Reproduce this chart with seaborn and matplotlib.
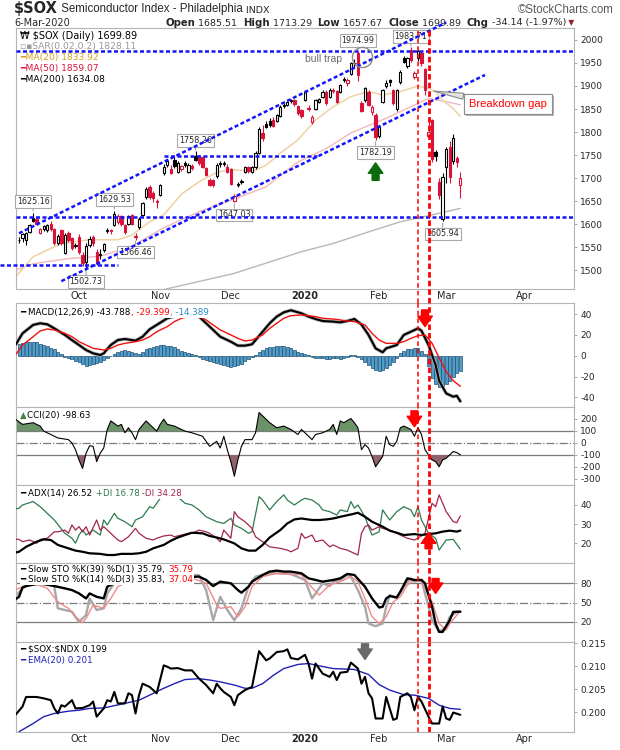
import numpy as np
import pandas as pd
import matplotlib
matplotlib.use("Agg")
import matplotlib.pyplot as plt
import matplotlib.patheffects as pe
import seaborn as sns

# ---------------- data ----------------
symbol = "$SOX"
first_day = "2019-09-06"          # first candle; one candle per trading day
holidays = ["2019-11-28", "2019-12-25", "2020-01-01", "2020-01-20", "2020-02-17", "2020-04-10"]

opens = [1566, 1569, 1565, 1583, 1614, 1610, 1581, 1590, 1587, 1601, 1589, 1558, 1587, 1538, 1580, 1569, 1553,
         1572, 1532, 1518, 1555, 1572, 1540, 1532, 1543, 1585, 1588,
         1598, 1605, 1617, 1598, 1601, 1620, 1574, 1594, 1620, 1659,
         1680, 1668, 1650, 1663, 1710, 1728, 1719, 1739, 1714, 1719,
         1733, 1714, 1726, 1748, 1746, 1746, 1721, 1696, 1695, 1704,
         1732, 1731, 1725, 1719, 1650, 1686, 1692, 1714, 1723, 1714,
         1723, 1755, 1798, 1818, 1825, 1826, 1825, 1835, 1857, 1859,
         1870, 1869, 1856, 1848, 1870, 1852, 1822, 1851, 1866, 1877,
         1888, 1877, 1892, 1889, 1888, 1912, 1907, 1927, 1950, 1971,
         1864, 1870, 1888, 1844, 1837, 1791, 1866, 1900, 1912, 1891,
         1849, 1909, 1960, 1943, 1978, 1920, 1960, 1971, 1936, 1791,
         1826, 1757, 1692, 1612, 1725, 1768, 1738, 1743, 1685.51]
highs = [1572, 1580, 1583, 1600, 1625.16, 1614, 1592, 1597, 1600, 1606, 1592, 1578, 1590, 1580, 1585, 1572, 1560,
         1578, 1540, 1558, 1575, 1576, 1545, 1545, 1560, 1592, 1590,
         1629.53, 1622, 1620, 1600, 1620, 1622, 1580, 1615, 1648, 1680,
         1684, 1672, 1655, 1688, 1730, 1742, 1728, 1745, 1736, 1729,
         1737, 1732, 1730, 1758.26, 1750, 1748, 1725, 1700, 1698, 1732,
         1736, 1738, 1730, 1722, 1665, 1692, 1698, 1726, 1726, 1726,
         1758, 1810, 1815, 1825, 1830, 1832, 1840, 1858, 1862, 1868,
         1872, 1872, 1858, 1850, 1892, 1858, 1836, 1872, 1874, 1892,
         1892, 1895, 1896, 1892, 1905, 1920, 1918, 1952, 1958, 1974.99,
         1868, 1898, 1892, 1858, 1842, 1814, 1894, 1912, 1915, 1894,
         1894, 1935, 1965, 1963, 1983.71, 1932, 1980, 1976, 1940, 1825,
         1828, 1762, 1700, 1710, 1768, 1780, 1795, 1748, 1713.29]
lows = [1558, 1562, 1554, 1580, 1605, 1598, 1578, 1586, 1583, 1586, 1555, 1555, 1555, 1534, 1562, 1543, 1548,
        1536, 1510, 1502.73, 1550, 1552, 1512, 1525, 1540, 1580, 1578,
        1595, 1600, 1596, 1578, 1598, 1598, 1566.46, 1590, 1618, 1655,
        1655, 1648, 1636, 1660, 1706, 1725, 1708, 1722, 1712, 1716,
        1724, 1712, 1718, 1736, 1728, 1722, 1704, 1682, 1680, 1700,
        1724, 1727, 1710, 1685, 1647.03, 1680, 1688, 1712, 1712, 1712,
        1720, 1752, 1780, 1808, 1810, 1810, 1822, 1832, 1852, 1856,
        1862, 1856, 1836, 1830, 1868, 1845, 1818, 1848, 1862, 1874,
        1858, 1874, 1884, 1862, 1885, 1908, 1900, 1924, 1940, 1910,
        1843, 1866, 1856, 1838, 1782.19, 1788, 1862, 1896, 1900, 1858,
        1846, 1905, 1950, 1940, 1952, 1915, 1955, 1944, 1880, 1785,
        1735, 1738, 1655, 1605.94, 1690, 1690, 1730, 1725, 1657.67]
closes = [1565, 1578, 1581, 1598, 1607, 1601, 1590, 1595, 1598, 1589, 1558, 1574, 1558, 1576, 1565, 1547, 1555,
          1540, 1516, 1552, 1568, 1558, 1516, 1535, 1556, 1588, 1586,
          1623, 1618, 1600, 1583, 1617, 1601, 1572, 1612, 1645, 1677,
          1659, 1656, 1649, 1685, 1725, 1737, 1711, 1726, 1733, 1726,
          1728, 1729, 1721, 1740, 1732, 1725, 1707, 1685, 1684, 1728,
          1730, 1733, 1714, 1688, 1662, 1688, 1694, 1723, 1715, 1723,
          1755, 1806, 1788, 1812, 1815, 1814, 1837, 1854, 1859, 1866,
          1868, 1860, 1842, 1834, 1888, 1850, 1832, 1869, 1871, 1888,
          1862, 1891, 1890, 1866, 1902, 1916, 1914, 1949, 1951, 1924,
          1846, 1895, 1859, 1854, 1790, 1811, 1891, 1906, 1908, 1862,
          1891, 1931, 1953, 1960, 1956, 1929, 1977, 1949, 1891, 1801,
          1742, 1748, 1663, 1703, 1764, 1703, 1786, 1734.03, 1699.89]

# moving averages (day numbers count trading days from 1-Oct-2019)
ma20_day = [-18, -13, -5, 3, 11, 15, 20, 24, 29, 34, 39, 43, 49, 53, 57, 62, 67, 72, 77, 82,
            86, 91, 96, 99, 101, 103, 106, 108]
ma20_val = [1485, 1529, 1558, 1566, 1566, 1576, 1605, 1620, 1665, 1692, 1712, 1719, 1714, 1728, 1754, 1783,
            1826, 1855, 1877, 1888, 1880, 1888, 1900, 1895, 1888, 1869, 1851, 1833.92]
ma50_day = [-18, -13, -3, 6, 15, 24, 34, 43, 53, 62, 70, 77, 87, 96, 99, 104, 108]
ma50_val = [1500, 1514, 1525, 1530, 1552, 1592, 1627, 1652, 1681, 1735, 1764, 1798, 1830, 1862, 1873, 1866, 1859.07]
ma200_day = [23, 44, 63, 72, 82, 91, 100, 108]
ma200_val = [1456, 1493, 1540, 1558, 1583, 1605, 1620, 1634.08]
sar_last = 1828.11

# hand drawn lines on the price chart
channel_top = ([-17, 104], [1580, 2038])
channel_bottom = ([-5, 115], [1476, 1924])
full_levels = [1974.99, 1616]
short_levels = [([-22.4, 11], 1511), ([24, 67.5], 1748)]
label_high_days = [-13, 10, 33, 79, 94]
label_low_days = [2, 16, 44, 84, 103]
event_days = [96, 99]

# MACD(12,26,9)
macd_day = [-18, -16, -13, -11, -9, -7, -4, -2, 0, 2, 4, 6, 7, 9, 11, 13, 16, 18, 20, 22,
            25, 27, 30, 34, 36, 38, 40, 43, 45, 47, 49, 52, 54, 56, 58, 60, 63, 65, 67, 69,
            72, 74, 76, 78, 80, 82, 84, 86, 87, 90, 92, 94, 96, 97, 99, 101, 102, 104, 106, 107, 108]
macd_val = [10.3, 21.5, 29.6, 31.2, 30.2, 26.3, 20, 15, 10.3, 5.5, 2.3, 0.7, 2.3, 10.3, 15.1, 16.1, 14.5, 18.3, 25.4, 29.6,
            36, 37.9, 39.2, 37.6, 31.2, 24.8, 18.3, 13.5, 9.7, 9.7, 11, 23.1, 31.2, 37.6, 41.7, 43.7, 40.8, 37.6, 35.3, 33.4,
            32.8, 32.1, 33.4, 35.3, 30, 20, 7.1, 3.3, 7.1, 10.3, 20, 23.1, 26.3, 24, 10.3, -8.9, -24, -36.2, -39.4, -38.5, -43.788]
signal_day = [-18, -16, -13, -11, -9, -7, -4, -2, 0, 2, 4, 7, 9, 11, 13, 16, 18, 20, 22, 25,
              27, 29, 31, 34, 36, 38, 40, 43, 45, 47, 49, 52, 54, 56, 58, 60, 63, 65, 67, 69,
              72, 74, 76, 78, 81, 83, 85, 87, 90, 92, 94, 96, 98, 100, 102, 104, 106, 108]
signal_val = [0.7, 10.3, 18.3, 23.8, 25.7, 24.8, 21.5, 18.3, 13.5, 10.3, 7.1, 5.5, 7.1, 10.3, 11.9, 13.5, 15.1, 18.3, 23.1, 28,
              32.8, 36, 37.6, 37.6, 34.4, 29.6, 24.8, 20, 16.7, 14.2, 15.1, 20, 26.3, 31.2, 36, 38.5, 39.2, 38.5, 37.6, 36,
              35.3, 34.4, 33.4, 32.8, 29.6, 21.5, 15.1, 11.9, 11.9, 13.5, 16.7, 19.3, 20, 12, -2, -15.3, -24, -29.399]
macd_hist = [11, 12, 13, 13.5, 13.5, 13, 11.5, 10, 9, 7.5,
             6, 4, 1.5, -1, -2.5, -3.5, -5, -6, -8, -9.5,
             -9, -8, -7, -6, -4.5, -2.5, -0.5, 2, 4, 5,
             5.5, 5, 4, 2.5, 2, 4, 6, 7.5, 8.5, 9,
             10, 10, 9.5, 9, 8, 6.5, 5, 4, 3, 2,
             0.5, -1, -3, -4.5, -5.5, -6.5, -7, -7.5, -8.5, -9.5,
             -10.5, -10, -9, -7.5, -5.5, -3.5, -1.5, 1, 4, 5.5,
             7, 8, 8.5, 9, 9.5, 9.7, 8.5, 7, 5.5, 4,
             2.5, 1.5, 0.5, -1.5, -2, -2.5, -2.5, -3, -3, -2.5,
             -2.5, -3, -2, -1, 0.6, 0.3, -1.5, -3, -6, -9,
             -12, -14, -15, -14, -12, -9, -6, -2, 3, 5,
             6, 6.5, 7, 7, 5, 2, -10, -21, -27, -30,
             -29, -27, -24, -20, -17, -14.389]

# CCI(20)
cci_day = [-18, -16, -13, -11, -10, -8, -6, -3, -2, -1, 0, 1, 2, 3, 4, 5, 6, 7, 8, 9,
           11, 12, 13, 14, 15, 16, 17, 19, 20, 22, 23, 24, 25, 27, 29, 30, 32, 35, 36, 37,
           39, 40, 41, 42, 43, 44, 45, 46, 47, 49, 50, 51, 52, 54, 56, 58, 60, 62, 63, 64,
           66, 67, 69, 71, 72, 73, 74, 75, 77, 78, 79, 80, 81, 82, 83, 84, 86, 87, 88, 89,
           90, 91, 92, 94, 95, 96, 97, 98, 100, 101, 102, 103, 104, 106, 107, 108]
cci_val = [198, 155, 169, 141, 99, 71, 42, 28, 0, -56, -141, -212, -85, -23, -28, -155, -85, -42, 113, 184,
           141, 155, 85, 127, 85, 28, 113, 184, 155, 99, 155, 198, 155, 141, 113, 99, 85, 56, 14, -28,
           14, -42, 56, -56, -155, -277, -141, -28, 28, 28, 85, 254, 226, 169, 127, 141, 113, 71, 113, 85,
           28, 71, 85, 113, 155, 71, 184, 169, 204, 169, 127, -56, -14, -42, -113, -198, -113, 56, -14, -28,
           14, 127, 141, 113, 56, 127, 71, -56, -141, -155, -198, -141, -127, -71, -80, -98.63]

# ADX(14), +DI, -DI
adx_day = [-18, -17, -15, -12, -10, -8, -6, -3, -1, 1, 3, 6, 8, 10, 12, 15, 17, 19, 21, 24,
           26, 28, 30, 32, 35, 37, 39, 41, 44, 46, 48, 50, 52, 54, 57, 59, 61, 63, 66, 68,
           70, 72, 74, 77, 79, 81, 83, 86, 88, 90, 92, 95, 97, 99, 101, 103, 105, 107, 108]
adx_val = [15, 15.4, 18, 20.7, 21.9, 21.6, 19, 17.2, 16, 15.4, 14.6, 14.3, 13.7, 13.7, 14.3, 14.3, 14.6, 15.4, 17.2, 19,
           21.2, 22.9, 24.2, 25.4, 25.1, 23.7, 22.9, 21.9, 19.8, 17.2, 16, 16, 19, 22.9, 26.8, 30.3, 32.4, 32.9, 32.1, 32.1,
           32.4, 32.9, 33.8, 35, 35.9, 33.8, 31.2, 28.6, 26.5, 25.4, 24.2, 24.7, 24.2, 24.7, 25.1, 26, 26.5, 26, 26.52]
pdi_day = [-18, -17, -16, -13, -11, -9, -7, -4, -2, -1, 0, 1, 2, 4, 6, 7, 8, 10, 11, 13,
           15, 16, 18, 20, 21, 23, 25, 27, 29, 30, 32, 34, 36, 38, 39, 41, 43, 44, 46, 48,
           49, 51, 52, 54, 56, 58, 59, 61, 63, 64, 66, 68, 69, 71, 73, 74, 76, 77, 78, 79,
           81, 82, 83, 85, 86, 88, 90, 92, 94, 95, 96, 97, 99, 101, 102, 104, 106, 108]
pdi_val = [38, 38.3, 40, 41.8, 39.1, 35.6, 32.1, 25.1, 22.5, 19.9, 24.2, 26.8, 24.2, 26.8, 24.2, 32.1, 29.5, 35.6, 33, 31.2,
           28.6, 32.1, 33.8, 39.1, 38.3, 43.5, 45.3, 45.3, 42.6, 40.9, 40, 37.4, 33.8, 32.1, 31.2, 30.3, 33, 29.5, 27.7, 25.1,
           25.9, 44.4, 42.6, 37.4, 41.8, 45.3, 42.6, 40, 42.6, 43.5, 42.6, 40, 37.4, 36.5, 34.7, 37.4, 36.5, 41.8, 38.3, 40,
           33.8, 28.6, 24.2, 25.9, 37.4, 32.1, 36.5, 39.1, 37.4, 33.8, 39.1, 32.1, 25.1, 22.5, 16.3, 21.6, 21.9, 16.78]
mdi_day = [-18, -17, -16, -14, -12, -11, -9, -7, -6, -4, -3, -2, -1, 0, 1, 2, 3, 5, 6, 7,
           9, 11, 12, 14, 16, 17, 19, 21, 22, 24, 26, 27, 29, 31, 32, 34, 36, 37, 39, 40,
           41, 43, 44, 45, 47, 49, 50, 52, 54, 57, 59, 60, 62, 63, 64, 66, 67, 69, 71, 72,
           74, 76, 77, 79, 80, 81, 82, 83, 85, 86, 88, 90, 91, 93, 95, 96, 98, 99, 100, 101,
           102, 104, 106, 107, 108]
mdi_val = [22, 21.9, 20.7, 21.6, 19.9, 21.9, 22.5, 25.9, 25.9, 26.8, 25.1, 29.5, 26.8, 28.6, 25.9, 28.6, 24.2, 32.1, 26.8, 28.6,
           25.1, 21.6, 20.7, 23.3, 27.7, 25.1, 22.5, 21.6, 22.5, 23.7, 24.2, 23.3, 24.2, 25.1, 25.1, 26.8, 25.9, 25.1, 22.5, 20.7,
           26.8, 22.5, 36.5, 33.8, 31.2, 27.7, 23.3, 20.7, 18, 17.2, 16.3, 15.4, 17.2, 25.1, 22.5, 24.2, 20.7, 21.6, 18, 19,
           17.2, 16.3, 15.4, 13.7, 25.1, 28.6, 29.5, 26.8, 28.6, 27.7, 26.8, 25.1, 24.2, 22.5, 21.6, 22.5, 25.1, 33, 40.9, 39.1,
           45.3, 36.5, 31.2, 30.7, 34.28]

# Slow stochastics
sto39_day = [-18, -17, -16, -15, -11, -7, -4, -2, 0, 2, 3, 5, 7, 8, 10, 13, 22, 34, 36, 38,
             40, 43, 45, 46, 48, 49, 52, 54, 56, 58, 60, 63, 65, 67, 69, 72, 74, 76, 78, 81,
             83, 85, 86, 87, 88, 90, 91, 93, 95, 97, 98, 100, 101, 102, 103, 105, 106, 108]
sto39_val = [55, 58.8, 73.3, 75.4, 79.5, 75.4, 71.8, 69.2, 64, 56.3, 64, 58.8, 56.3, 74.4, 79.6, 84.8, 87.3, 90, 84.8, 75.4,
             82.2, 79.6, 69.2, 65.1, 74.4, 82.2, 92.5, 97.7, 99.2, 97.7, 97.7, 95.1, 87.3, 84.8, 82.2, 84.8, 87.3, 94.1, 92.5, 74.4,
             56.3, 42.3, 43.4, 56.3, 59.9, 57.9, 66.7, 87.3, 84.8, 84.8, 79.6, 43.4, 17.5, 4.6, 4.6, 22.6, 35.5, 35.79]
sto14_day = [-18, -16, -13, -10, -8, -7, -6, -4, -2, 0, 2, 3, 5, 7, 8, 10, 13, 18, 22, 27,
             31, 34, 36, 38, 40, 42, 44, 46, 48, 50, 54, 56, 60, 64, 66, 67, 69, 71, 72, 74,
             76, 77, 79, 81, 82, 84, 86, 87, 88, 90, 92, 94, 95, 97, 98, 100, 102, 104, 105, 107, 108]
sto14_val = [60, 72, 80, 78, 78, 74.4, 41, 38.4, 35.8, 20, 30.6, 56.3, 38.4, 41, 64, 79.6, 88, 90, 92, 95,
             93, 92, 69.2, 22.6, 58.8, 38.4, 22.6, 41, 74.4, 90, 95.1, 95.1, 94, 84.8, 56.3, 64, 79.6, 75.4, 82.2, 84.8,
             92.5, 90, 69.2, 43.4, 17.5, 13.4, 17.5, 43.4, 61.5, 56.3, 74.4, 87.3, 82.2, 84.8, 64, 22.6, 4.6, 12.4, 27.9, 35.5, 35.83]
sto14d_day = [-18, -13, -9, -6, -3, -1, 1, 2, 4, 7, 9, 11, 15, 22, 30, 36, 39, 40, 43, 45,
              47, 49, 52, 56, 63, 66, 68, 71, 74, 77, 79, 81, 83, 85, 87, 89, 91, 93, 95, 97,
              100, 102, 104, 105, 107, 108]
sto14d_val = [70, 80, 72, 51, 41, 28, 18.8, 25.5, 46.2, 41, 56.3, 74.4, 85, 90, 92, 79.6, 46.2, 41, 43.4, 28,
              43.4, 74.4, 90, 95, 93, 72.8, 61.5, 77, 82.2, 90, 82.2, 56.3, 28, 17.5, 28, 51, 58.8, 77, 84.8, 82.2,
              51, 17.5, 7.2, 17.5, 30.4, 37.04]

# $SOX:$NDX ratio and its EMA(20)
ratio_day = [-18, -16, -15, -12, -10, -8, -7, -6, -5, -4, -2, -1, 1, 3, 4, 5, 7, 8, 9, 10,
             11, 13, 14, 15, 16, 17, 18, 20, 22, 24, 25, 26, 28, 30, 32, 34, 36, 38, 39, 40,
             41, 43, 44, 45, 47, 49, 51, 53, 54, 56, 58, 59, 60, 62, 64, 65, 66, 67, 69, 71,
             72, 73, 74, 76, 77, 79, 80, 81, 82, 83, 84, 86, 87, 89, 90, 91, 93, 94, 95, 96,
             97, 99, 100, 102, 103, 104, 105, 106, 108]
ratio_val = [0.1994, 0.2012, 0.2033, 0.2033, 0.2030, 0.2026, 0.2008, 0.1997, 0.2015, 0.2012,
             0.2026, 0.2008, 0.2009, 0.2015, 0.2023, 0.1990, 0.2008, 0.2026, 0.2023, 0.2044,
             0.2019, 0.2019, 0.2041, 0.2037, 0.1997, 0.2037, 0.2062, 0.2055, 0.2041, 0.2102,
             0.2099, 0.2095, 0.2096, 0.2091, 0.2091, 0.2073, 0.2059, 0.2041, 0.2062, 0.2052,
             0.2044, 0.2033, 0.2015, 0.2037, 0.2048, 0.2055, 0.2133, 0.2113, 0.2117, 0.2131,
             0.2133, 0.2137, 0.2118, 0.2115, 0.2125, 0.2106, 0.2073, 0.2106, 0.2084, 0.2077,
             0.2088, 0.2070, 0.2086, 0.2088, 0.2108, 0.2095, 0.2062, 0.2077, 0.2041, 0.2030,
             0.1986, 0.1986, 0.2033, 0.1983, 0.1986, 0.2033, 0.2041, 0.2033, 0.2004, 0.2033,
             0.2023, 0.1990, 0.1975, 0.1975, 0.2012, 0.1986, 0.1983, 0.1999, 0.1994]
ema_day = [-17, -13, -10, -7, -3, 0, 3, 7, 10, 13, 17, 20, 24, 27, 30, 34, 37, 40, 44, 47,
           49, 52, 55, 58, 62, 65, 68, 72, 75, 78, 82, 85, 88, 92, 95, 99, 102, 105, 108]
ema_val = [0.1957, 0.1975, 0.1990, 0.1997, 0.2002, 0.2004, 0.2008, 0.2009, 0.2014, 0.2019,
           0.2026, 0.2037, 0.2052, 0.2062, 0.2071, 0.2073, 0.2070, 0.2066, 0.2059, 0.2052,
           0.2052, 0.2062, 0.2080, 0.2095, 0.2104, 0.2106, 0.2101, 0.2095, 0.2094, 0.2093,
           0.2082, 0.2060, 0.2048, 0.2038, 0.2037, 0.2030, 0.2015, 0.2008, 0.2006]

# ---------------- styling ----------------
sns.set_style("white")
plt.rcParams["font.family"] = ["DejaVu Sans"]
plt.rcParams["text.parse_math"] = False

RED = "#d8143a"
BLUE = "#1414ff"
GRID = "#b4b4b4"
W, H = 620, 750

# trading calendar -> day numbers (0 = 1-Oct-2019)
cal = pd.bdate_range("2019-09-03", "2020-04-30")
cal = cal[~cal.isin(pd.to_datetime(holidays))]
day_no = np.arange(len(cal)) - cal.get_loc(pd.Timestamp("2019-10-01"))
start = cal.get_loc(pd.Timestamp(first_day))
cx = day_no[start:start + len(closes)]
last_date = cal[start + len(closes) - 1]
firsts = cal.to_series().groupby(cal.to_period("M")).first()
firsts = firsts[firsts >= pd.Timestamp("2019-10-01")]
month_pos = [day_no[cal.get_loc(d)] for d in firsts]
month_lab = ["2020" if d.month == 1 else d.strftime("%b") for d in firsts]

fig = plt.figure(figsize=(W / 100, H / 100), dpi=100)


def pane(top, bottom):
    return fig.add_axes([16 / W, 1 - bottom / H, 558 / W, (bottom - top) / H])


ax_px = pane(28, 289)
ax_macd = pane(303, 407)
ax_cci = pane(407, 485)
ax_adx = pane(485, 563)
ax_sto = pane(563, 642)
ax_rat = pane(642, 732)
panes = [ax_px, ax_macd, ax_cci, ax_adx, ax_sto, ax_rat]


def style(ax, ylim, yticks, fmt="{:g}", xlabels=False):
    ax.set_xlim(-17.85, 140.2)
    ax.set_ylim(*ylim)
    ax.yaxis.tick_right()
    ax.set_yticks(yticks)
    ax.set_yticklabels([fmt.format(v) for v in yticks])
    ax.tick_params(axis="y", labelsize=6.5, length=2.5, width=0.6, color="#999", pad=2)
    ax.set_xticks(month_pos)
    if xlabels:
        ax.set_xticklabels(month_lab)
        for t in ax.get_xticklabels():
            if t.get_text() == "2020":
                t.set_fontweight("bold")
    else:
        ax.set_xticklabels([])
    ax.tick_params(axis="x", labelsize=7, length=0, pad=1.5)
    ax.set_xlabel("")
    ax.set_ylabel("")
    for s in ax.spines.values():
        s.set_color(GRID)
        s.set_linewidth(0.8)


def line(ax, xs, ys, color, lw, z=3):
    sns.lineplot(x=xs, y=ys, ax=ax, color=color, linewidth=lw, sort=False, estimator=None, zorder=z)


def legend_row(ax, y, parts, size=6.3, bg=True):
    t = None
    box = dict(facecolor="white", edgecolor="none", pad=0.6) if bg else None
    for s, color in parts:
        if t is None:
            t = ax.text(0.008, y, s, color=color, transform=ax.transAxes, fontsize=size,
                        va="bottom", ha="left", zorder=9, bbox=box)
        else:
            t = ax.annotate(s, xy=(1, 0), xycoords=t, color=color, fontsize=size,
                            va="bottom", ha="left", zorder=9, bbox=box)


def block_arrow(ax, x, tail, tip, color):
    ax.annotate("", xy=(x, tip), xytext=(x, tail), zorder=9,
                arrowprops=dict(arrowstyle="simple,head_length=0.75,head_width=1.05,tail_width=0.5",
                                fc=color, ec=color, mutation_scale=10, shrinkA=0, shrinkB=0))


# ---------------- price pane ----------------
o, h, l, c = map(np.array, (opens, highs, lows, closes))
prev = np.r_[c[0], c[:-1]]
edge = np.where(c < prev, RED, "black")
face = np.where(c < o, edge, "white")

line(ax_px, ma200_day, ma200_val, "#b8b8b8", 1.0, 2)
line(ax_px, ma50_day, ma50_val, "#f2b8bc", 1.0, 2)
line(ax_px, ma20_day, ma20_val, "#efd2a2", 1.1, 2)
ax_px.vlines(cx, l, h, colors=edge, lw=0.8, zorder=3)
ax_px.bar(cx, np.maximum(np.abs(c - o), 0.8), bottom=np.minimum(o, c), width=0.66,
          color=face, edgecolor=edge, linewidth=0.8, zorder=4)

dash = (0, (1.6, 1.0))
for lvl in full_levels:
    ax_px.axhline(lvl, color=BLUE, lw=1.8, ls=dash, zorder=5)
for xs, lvl in short_levels:
    ax_px.plot(xs, [lvl, lvl], color=BLUE, lw=1.8, ls=dash, zorder=5, clip_on=False)
for xs, ys in (channel_top, channel_bottom):
    ax_px.plot(xs, ys, color=BLUE, lw=1.8, ls=dash, zorder=5, clip_on=False)

box = dict(boxstyle="square,pad=0.22", fc="white", ec="#a8a8a8", lw=0.8)
for d in label_high_days:
    v = highs[list(cx).index(d)]
    ax_px.annotate(f"{v:.2f}", xy=(d, v), xytext=(0, 11), textcoords="offset pixels", ha="center",
                   va="center", fontsize=5.8, bbox=box, zorder=4.5,
                   arrowprops=dict(arrowstyle="-", color="#a8a8a8", lw=0.8, shrinkA=0, shrinkB=1))
for d in label_low_days:
    v = lows[list(cx).index(d)]
    ax_px.annotate(f"{v:.2f}", xy=(d, v), xytext=(0, -12.5), textcoords="offset pixels", ha="center",
                   va="center", fontsize=5.8, bbox=box, zorder=4.5,
                   arrowprops=dict(arrowstyle="-", color="#a8a8a8", lw=0.8, shrinkA=0, shrinkB=1))

ax_px.text(64, 1958, "bull trap", fontsize=7.5, color="#6a6a6a", va="center", ha="left",
           family="Liberation Sans", zorder=6)
ax_px.plot([80.1], [1963.7], marker="o", ms=14.5, mfc="none", mec="#8c8c8c", mew=1.0, zorder=6)
gap = ax_px.annotate("Breakdown gap", xy=(100.4, 1889), xytext=(121.4, 1861), color="red", fontsize=8,
                     family="Liberation Sans", ha="center", va="center", zorder=7,
                     bbox=dict(boxstyle="square,pad=0.45", fc="white", ec="#8c8c8c", lw=0.8),
                     arrowprops=dict(arrowstyle="wedge,tail_width=0.55", fc="#e2e2e2", ec="#8c8c8c",
                                     lw=0.8, shrinkA=0, shrinkB=0))
gap.get_bbox_patch().set_path_effects([pe.withSimplePatchShadow(offset=(1.8, -1.8), shadow_rgbFace="#888",
                                                                alpha=0.6), pe.Normal()])
block_arrow(ax_px, 84, 1695, 1733, "#0b6b0b")

legend_row(ax_px, 0.952, [(f"₩ {symbol} (Daily) {closes[-1]:.2f}", "black")], size=7, bg=False)
legend_row(ax_px, 0.912, [(f"▫▪SAR(0.02,0.2) {sar_last:.2f}", "#9a9a9a")], size=6.6, bg=False)
legend_row(ax_px, 0.869, [(f"━MA(20) {ma20_val[-1]:.2f}", "#d4a020")], size=6.6, bg=False)
legend_row(ax_px, 0.827, [(f"━MA(50) {ma50_val[-1]:.2f}", "#dc143c")], size=6.6, bg=False)
legend_row(ax_px, 0.785, [(f"━MA(200) {ma200_val[-1]:.2f}", "black")], size=6.6, bg=False)
style(ax_px, (1459, 2026), list(range(1500, 2001, 50)), xlabels=True)

# ---------------- MACD ----------------
ax_macd.bar(cx, macd_hist, width=0.85, color="#4f9dcb", edgecolor="#1d4f73", linewidth=0.5, zorder=2)
line(ax_macd, macd_day, macd_val, "#b0b0b0", 2.6, 3)
line(ax_macd, macd_day, macd_val, "black", 1.5, 4)
line(ax_macd, signal_day, signal_val, "#f01010", 1.0, 4)
legend_row(ax_macd, 0.865, [(f"━ MACD(12,26,9) {macd_val[-1]:.3f}", "black"),
                            (f", {signal_val[-1]:.3f}", "red"), (f", {macd_hist[-1]:.3f}", "#2a88c8")])
block_arrow(ax_macd, 98, 44, 28, "red")
style(ax_macd, (-49.3, 50.7), [-40, -20, 0, 20, 40])

# ---------------- CCI ----------------
cd, cv = np.array(cci_day), np.array(cci_val)
ax_cci.fill_between(cd, cv, 100, where=cv >= 100, interpolate=True, color="#6a9368", lw=0, zorder=2)
ax_cci.fill_between(cd, cv, -100, where=cv <= -100, interpolate=True, color="#8f636b", lw=0, zorder=2)
for lvl, ls in ((100, "-"), (-100, "-"), (0, "-.")):
    ax_cci.axhline(lvl, color="#7a7a7a", lw=0.9, ls=ls, zorder=1)
line(ax_cci, cci_day, cci_val, "black", 0.8, 3)
legend_row(ax_cci, 0.83, [("▲", "#4b7a49"), (f"CCI(20) {cci_val[-1]:.2f}", "black")])
block_arrow(ax_cci, 95, 268, 136, "red")
style(ax_cci, (-350, 300), [-300, -200, -100, 0, 100, 200])

# ---------------- ADX ----------------
line(ax_adx, pdi_day, pdi_val, "#2f7a4e", 0.9, 3)
line(ax_adx, mdi_day, mdi_val, "#a3264b", 0.9, 3)
line(ax_adx, adx_day, adx_val, "black", 1.6, 4)
legend_row(ax_adx, 0.83, [(f"━ ADX(14) {adx_val[-1]:.2f}", "black"), (f" +DI {pdi_val[-1]:.2f}", "#2f7a4e"),
                          (f" -DI {mdi_val[-1]:.2f}", "#a3264b")])
block_arrow(ax_adx, 99, 17, 25.3, "red")
style(ax_adx, (9.5, 50.5), [20, 30, 40])

# ---------------- Slow stochastics ----------------
for lvl, ls in ((80, "-"), (20, "-"), (50, "-.")):
    ax_sto.axhline(lvl, color="#7a7a7a", lw=0.9, ls=ls, zorder=1)
line(ax_sto, sto14_day, sto14_val, "#a8a8a8", 1.7, 2)
line(ax_sto, sto14d_day, sto14d_val, "#f08a8a", 1.0, 3)
line(ax_sto, sto39_day, sto39_val, "black", 1.7, 4)
legend_row(ax_sto, 0.855, [(f"━ Slow STO %K(39) %D(1) {sto39_val[-1]:.2f}, ", "black"),
                           (f"{sto39_val[-1]:.2f}", "red")])
legend_row(ax_sto, 0.735, [(f"━ Slow STO %K(14) %D(3) {sto14_val[-1]:.2f}, ", "black"),
                           (f"{sto14d_val[-1]:.2f}", "red")])
block_arrow(ax_sto, 101, 87, 64, "red")
style(ax_sto, (-11, 111), [20, 50, 80])

# ---------------- ratio ----------------
line(ax_rat, ema_day, ema_val, "#2020b8", 1.0, 3)
line(ax_rat, ratio_day, ratio_val, "black", 1.5, 4)
legend_row(ax_rat, 0.87, [(f"━ $SOX:$NDX {ratio_val[-1]:.3f}", "black")])
legend_row(ax_rat, 0.75, [(f"━ EMA(20) {ema_val[-1]:.3f}", "#2020b8")])
block_arrow(ax_rat, 81, 0.2149, 0.2115, "#6a6a6a")
style(ax_rat, (0.19565, 0.2153), [0.200, 0.205, 0.210, 0.215], fmt="{:.3f}", xlabels=True)

# event lines through every pane
for ax in panes:
    for d, lw, pat in zip(event_days, (1.1, 2.0), ((0, (3, 2)), (0, (2, 1.1)))):
        if ax is ax_px:
            ax.axvline(d, ymin=-0.054, ymax=1, color="red", lw=lw, ls=pat, zorder=6, clip_on=False)
        else:
            ax.axvline(d, color="red", lw=lw, ls=pat, zorder=6)

# ---------------- header ----------------
def fx(x):
    return x / W


def fy(y):
    return 1 - y / H


t = fig.text(fx(14), fy(16), symbol, fontsize=10.5, fontweight="bold", va="bottom")
t = ax_px.annotate(" Semiconductor Index - Philadelphia", xy=(1, 0.06), xycoords=t, fontsize=8.3,
                   family="Liberation Sans", va="bottom", annotation_clip=False)
ax_px.annotate(" INDX", xy=(1, 0.0), xycoords=t, fontsize=6.8, va="bottom", annotation_clip=False)
fig.text(fx(614), fy(16), "©StockCharts.com", fontsize=8.3, color="#5a5a5a", ha="right", va="bottom",
         family="Liberation Sans")
fig.text(fx(14), fy(27.5), f"{last_date.day}-{last_date.strftime('%b-%Y')}", fontsize=7, va="bottom")

chg = closes[-1] - closes[-2]
row = [("Open", "bold"), (f" {opens[-1]:.2f}  ", "normal"), ("High", "bold"), (f" {highs[-1]:.2f}  ", "normal"),
       ("Low", "bold"), (f" {lows[-1]:.2f}  ", "normal"), ("Close", "bold"), (f" {closes[-1]:.2f}  ", "normal"),
       ("Chg", "bold"), (f" {chg:.2f} ({100 * chg / closes[-2]:.2f}%)", "normal")]
t = fig.text(fx(165), fy(27.5), "", fontsize=7, va="bottom")
for s, wt in row:
    t = ax_px.annotate(s, xy=(1, 0), xycoords=t, fontsize=7.3 if wt == "bold" else 6.8, fontweight=wt,
                       va="bottom", ha="left", annotation_clip=False)
ax_px.annotate(" ▼", xy=(1, 0.1), xycoords=t, fontsize=5.5, color="#9b1b30", va="bottom",
               annotation_clip=False)

fig.savefig("out.png", dpi=100)
